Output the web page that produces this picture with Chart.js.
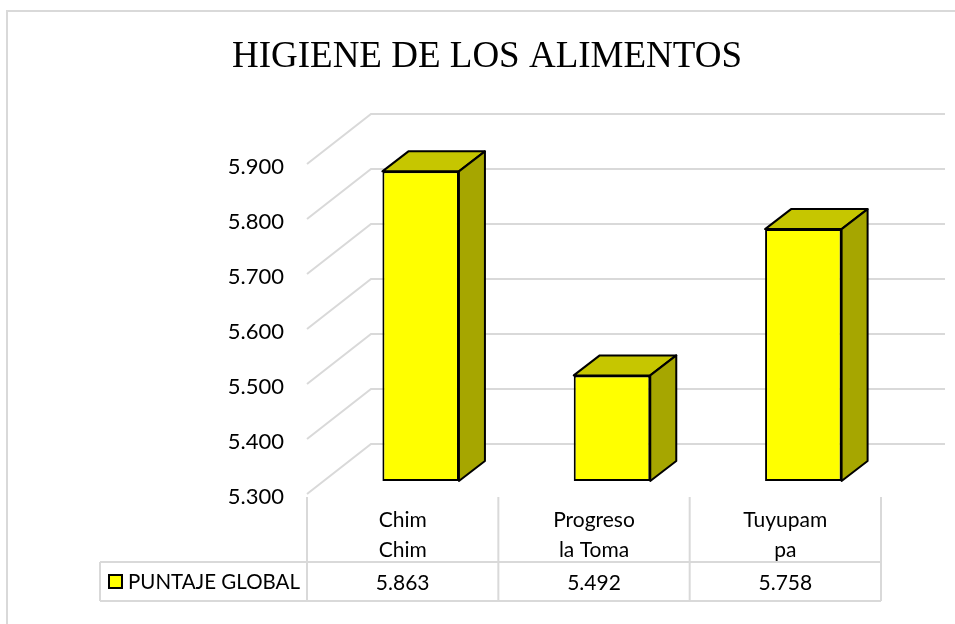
<!DOCTYPE html>
<html>
<head>
<meta charset="utf-8">
<style>html,body{margin:0;padding:0;background:#fff}canvas{display:block}</style>
<script src="https://cdn.jsdelivr.net/npm/chart.js@4/dist/chart.umd.min.js"></script>
</head>
<body>
<canvas id="c" width="955" height="624"></canvas>
<script>
const chartTitle = 'HIGIENE DE LOS ALIMENTOS';
const seriesName = 'PUNTAJE GLOBAL';
const categories = [['Chim', 'Chim'], ['Progreso', 'la Toma'], ['Tuyupam', 'pa']];
const puntaje = [5.863, 5.492, 5.758];
const axisMin = 5.3, axisMax = 5.9, axisStep = 0.1;

const UI_FONT = 'Lato, "Open Sans", sans-serif';
const GRID = '#d9d9d9', FRONT = '#ffff00', TOP = '#c6c600', SIDE = '#a6a600';
// Oblique depth of the plot box, and of each bar inside it
const WALL = { dx: 64, dy: -50 }, BAR_SHIFT = { dx: 18, dy: -13 }, BAR_DEPTH = { dx: 26, dy: -20 };
const TABLE = { left: 100, top: 497, rule: 562, bottom: 601 };

function strokeLine(ctx, pts) {
  ctx.beginPath();
  pts.forEach((p, i) => i ? ctx.lineTo(p[0], p[1]) : ctx.moveTo(p[0], p[1]));
  ctx.stroke();
}

function face(ctx, pts, fill) {
  ctx.beginPath();
  pts.forEach((p, i) => i ? ctx.lineTo(p[0], p[1]) : ctx.moveTo(p[0], p[1]));
  ctx.closePath();
  ctx.fillStyle = fill;
  ctx.fill();
  ctx.strokeStyle = '#000';
  ctx.lineWidth = 2;
  ctx.lineJoin = 'round';
  ctx.stroke();
}

const frame3d = {
  id: 'frame3d',
  beforeDatasetsDraw(chart) {
    const { ctx, chartArea: a, scales: { y } } = chart;
    ctx.save();
    ctx.strokeStyle = GRID;
    ctx.lineWidth = 2;
    // Outer chart border
    strokeLine(ctx, [[7, chart.height], [7, 11], [chart.width, 11]]);
    // Side and back walls at every tick
    y.ticks.forEach(t => {
      const py = y.getPixelForValue(t.value);
      strokeLine(ctx, [[a.left, py], [a.left + WALL.dx, py + WALL.dy], [a.right + WALL.dx, py + WALL.dy]]);
    });
    ctx.restore();
    // Bars sit midway through the depth of the box
    ctx.save();
    ctx.translate(BAR_SHIFT.dx, BAR_SHIFT.dy);
  },
  afterDatasetsDraw(chart) {
    const { ctx } = chart;
    chart.getDatasetMeta(0).data.forEach(bar => {
      const l = bar.x - bar.width / 2, r = bar.x + bar.width / 2;
      const t = bar.y, b = bar.base, dx = BAR_DEPTH.dx, dy = BAR_DEPTH.dy;
      face(ctx, [[l, t], [r, t], [r + dx, t + dy], [l + dx, t + dy]], TOP);
      face(ctx, [[r, t], [r + dx, t + dy], [r + dx, b + dy], [r, b]], SIDE);
    });
    ctx.restore();
    drawTable(chart);
  }
};

// Data table under the plot: category columns plus one row of values
function drawTable(chart) {
  const { ctx, chartArea: a, scales: { x } } = chart;
  const colW = (a.right - a.left) / categories.length;
  ctx.save();
  ctx.strokeStyle = GRID;
  ctx.lineWidth = 2;
  strokeLine(ctx, [[TABLE.left, TABLE.rule], [a.right, TABLE.rule]]);
  strokeLine(ctx, [[TABLE.left, TABLE.bottom], [a.right, TABLE.bottom]]);
  strokeLine(ctx, [[TABLE.left, TABLE.rule], [TABLE.left, TABLE.bottom]]);
  for (let i = 0; i <= categories.length; i++) {
    const vx = a.left + i * colW;
    strokeLine(ctx, [[vx, TABLE.top], [vx, TABLE.bottom]]);
  }
  ctx.fillStyle = '#000';
  ctx.textBaseline = 'middle';
  ctx.font = '21px ' + UI_FONT;
  ctx.textAlign = 'center';
  puntaje.forEach((v, i) => ctx.fillText(v.toFixed(3), x.getPixelForValue(i), 583));
  ctx.textAlign = 'left';
  ctx.fillText(seriesName, 128, 582, 172);
  ctx.fillStyle = FRONT;
  ctx.strokeStyle = '#000';
  ctx.lineWidth = 2;
  ctx.fillRect(109, 575, 13, 13);
  ctx.strokeRect(109, 575, 13, 13);
  ctx.restore();
}

new Chart(document.getElementById('c'), {
  type: 'bar',
  data: {
    labels: categories,
    datasets: [{
      label: seriesName,
      data: puntaje,
      base: axisMin,
      backgroundColor: FRONT,
      borderColor: '#000',
      borderWidth: 2,
      borderSkipped: false,
      barPercentage: 0.4,
      categoryPercentage: 1,
      clip: false
    }]
  },
  plugins: [frame3d],
  options: {
    responsive: false,
    animation: false,
    layout: { padding: { left: 93, right: 74, top: 28, bottom: 60 } },
    plugins: {
      legend: { display: false },
      tooltip: { enabled: false },
      title: {
        display: true,
        text: chartTitle,
        color: '#000',
        font: { family: '"Liberation Serif", serif', size: 37, weight: 'normal' },
        padding: { top: 7, bottom: 84.6 }
      }
    },
    scales: {
      x: {
        grid: { display: false },
        border: { display: false },
        afterFit(s) { s.height = 70; },
        ticks: { color: '#000', font: { family: UI_FONT, size: 21, lineHeight: 1.4 }, padding: 4, maxRotation: 0 }
      },
      y: {
        min: axisMin,
        max: axisMax,
        grid: { display: false },
        border: { display: false },
        afterFit(s) { s.width = 214; },
        ticks: {
          stepSize: axisStep,
          color: '#000',
          font: { family: UI_FONT, size: 22 },
          padding: 15,
          labelOffset: 3,
          callback: v => Number(v).toFixed(3)
        }
      }
    }
  }
});
</script>
</body>
</html>
